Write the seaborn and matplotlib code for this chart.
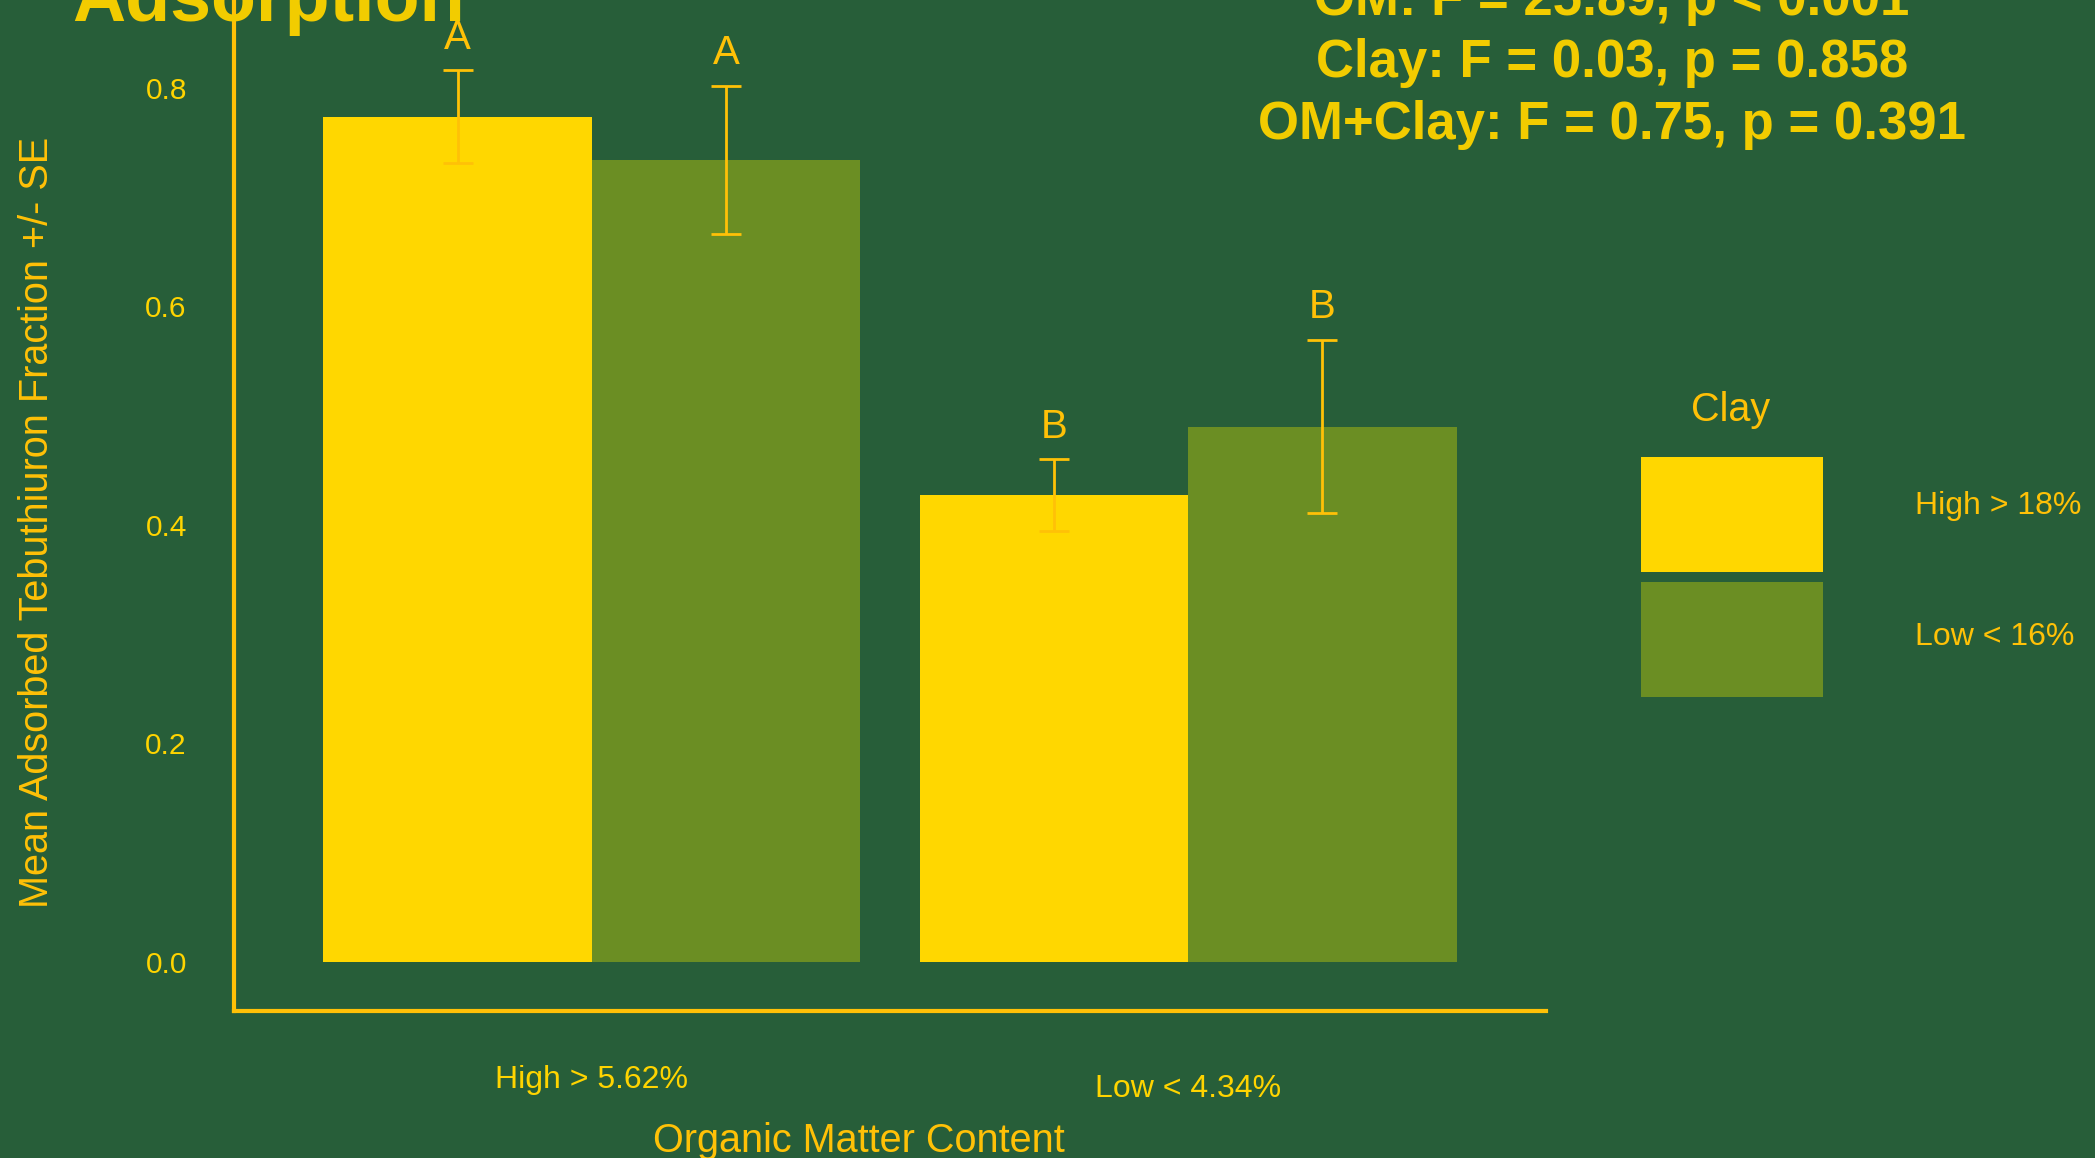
import matplotlib
matplotlib.use("Agg")
import matplotlib.pyplot as plt
from matplotlib.patches import Patch
from matplotlib.container import BarContainer
import matplotlib.transforms as mtransforms
import seaborn as sns
import pandas as pd

# ---- data ----
om_levels = ["High > 5.62%", "Low < 4.34%"]
clay_levels = ["High > 18%", "Low < 16%"]
om_col = ["High > 5.62%", "High > 5.62%", "Low < 4.34%", "Low < 4.34%"]
clay_col = ["High > 18%", "Low < 16%", "High > 18%", "Low < 16%"]
means = [0.7735, 0.734, 0.427, 0.490]
ses = [0.0425, 0.0675, 0.033, 0.079]
letters = ["A", "A", "B", "B"]
yticks = [0.0, 0.2, 0.4, 0.6, 0.8]
stats_lines = ["OM: F = 25.89, p < 0.001",
               "Clay: F = 0.03, p = 0.858",
               "OM+Clay: F = 0.75, p = 0.391"]

BG = "#275E39"
GOLD = "#FFD700"
OLIVE = "#6B8E23"
AMBER = "#FFC107"
TXT = "#F2CC00"
TICK = "#FFD400"

plt.rcParams["font.family"] = ["Liberation Sans", "DejaVu Sans"]

W, H = 2095, 1158
fig = plt.figure(figsize=(W / 100, H / 100), dpi=100, facecolor=BG)

# axes geometry (pixel-derived)
ax_left = 234 / W
ax_right = 1546 / W
ax_bottom = 1 - 1011 / H
ymin, ymax = -0.045, 0.95
ax_top = 1 - (962 - 1092.5 * ymax) / H
ax = fig.add_axes([ax_left, ax_bottom, ax_right - ax_left, ax_top - ax_bottom])
ax.set_facecolor(BG)

df = pd.DataFrame({"OM": om_col, "Clay": clay_col, "mean": means, "se": ses})

sns.barplot(data=df, x="OM", y="mean", hue="Clay", order=om_levels,
            hue_order=clay_levels, palette=[GOLD, OLIVE], width=0.9,
            saturation=1, errorbar=None, legend=False, ax=ax, linewidth=0)

ax.set_xlim(-0.6, 1.6)
ax.set_ylim(ymin, ymax)

# error bars and letters from bar patches
bar_conts = [c for c in ax.containers if isinstance(c, BarContainer)]
for ci, cont in enumerate(bar_conts):
    for oi, patch in enumerate(cont.patches):
        row = df[(df["OM"] == om_levels[oi]) & (df["Clay"] == clay_levels[ci])].index[0]
        xc = patch.get_x() + patch.get_width() / 2
        m, s = df.loc[row, "mean"], df.loc[row, "se"]
        ax.errorbar(xc, m, yerr=s, color=AMBER, lw=2, capsize=10.5, capthick=2)
        ax.text(xc, m + s + 0.02, letters[row], ha="center", va="baseline",
                color=AMBER, fontsize=29)

# spines
for sp in ["top", "right"]:
    ax.spines[sp].set_visible(False)
for sp in ["left", "bottom"]:
    ax.spines[sp].set_color(AMBER)
    ax.spines[sp].set_linewidth(3)

ax.set_yticks(yticks)
ax.set_yticklabels([f"{v:.1f}" for v in yticks])
ax.tick_params(axis="y", length=0, pad=34, labelsize=21.5, labelcolor=TICK)
ax.tick_params(axis="x", length=0, pad=39, labelsize=23, labelcolor=TICK)
xt = ax.get_xticklabels()
xt[1].set_y(-0.0083)

ax.set_xlabel("Organic Matter Content", fontsize=28.5, color=AMBER)
ax.xaxis.set_label_coords((859 - 234) / 1312, (1011 - 1122) / ((ax_top - ax_bottom) * H))
ax.set_ylabel("Mean Adsorbed Tebuthiuron Fraction +/- SE", fontsize=28.5, color=AMBER)
ax.yaxis.set_label_coords((56 - 234) / 1312, (1011 - 522) / ((ax_top - ax_bottom) * H))

# legend
fs_leg = 23
handles = [Patch(facecolor=GOLD, edgecolor="none"), Patch(facecolor=OLIVE, edgecolor="none")]
leg = fig.legend(handles, clay_levels, loc="upper left",
                 bbox_to_anchor=(1641 / W, 1 - 457 / H), bbox_transform=fig.transFigure,
                 frameon=False, fontsize=fs_leg, borderpad=0, borderaxespad=0,
                 handlelength=182 / 32, handleheight=5.16, labelspacing=10 / 32,
                 handletextpad=92 / 32, labelcolor=AMBER)
for t, dy in zip(leg.get_texts(), [0.085, 0.02]):
    t.set_transform(t.get_transform() + mtransforms.ScaledTranslation(0, dy, fig.dpi_scale_trans))
fig.text(1731 / W, 1 - 410 / H, "Clay", ha="center", va="center", fontsize=28.5, color=AMBER)

# title (partially outside)
fig.text(72 / W, 1 - 21 / H, "Adsorption", ha="left", va="baseline",
         fontsize=53, fontweight="bold", color=TXT)

# stats annotation
for i, line in enumerate(stats_lines):
    fig.text(1612 / W, 1 - (15 + 62 * i) / H, line, ha="center", va="baseline",
             fontsize=38, fontweight="bold", color=TXT)

fig.savefig("out.png", dpi=100, facecolor=BG)
